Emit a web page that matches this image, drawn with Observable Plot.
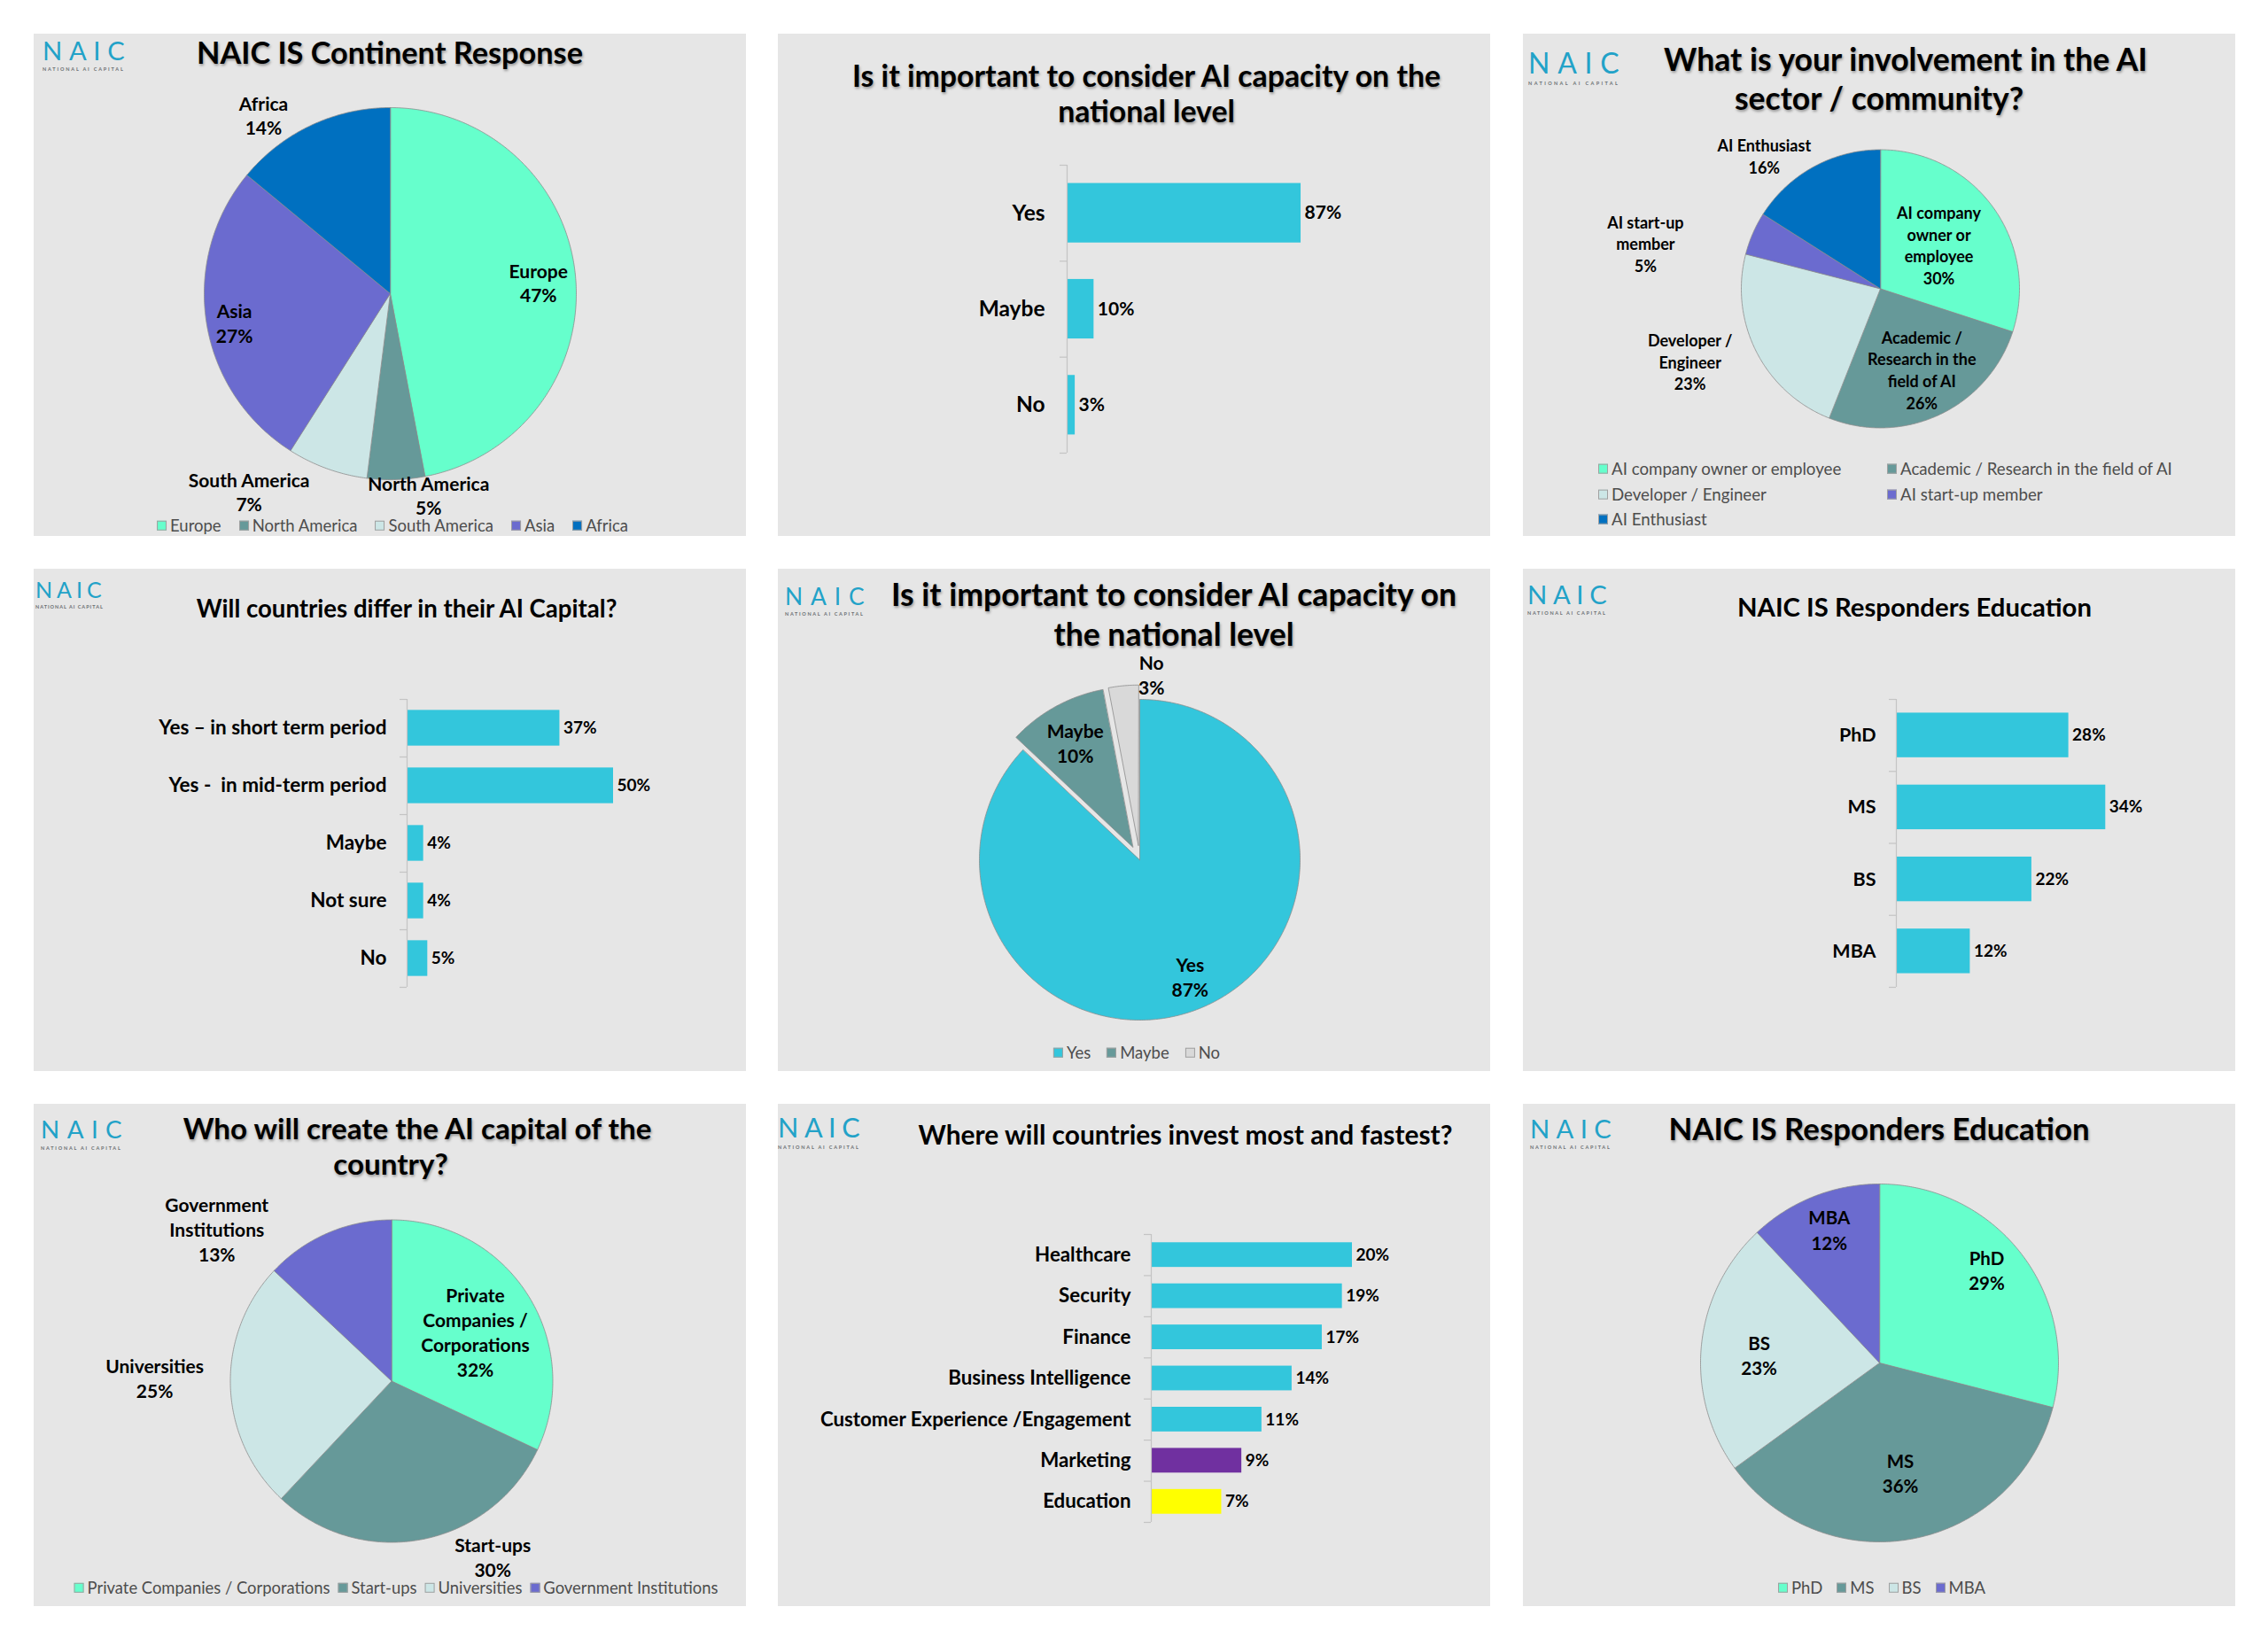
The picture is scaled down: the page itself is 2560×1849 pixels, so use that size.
<!DOCTYPE html>
<html>
<head>
<meta charset="utf-8">
<script src="https://cdn.jsdelivr.net/npm/d3@7"></script>
<script src="https://cdn.jsdelivr.net/npm/@observablehq/plot@0.6"></script>
<style>
  html, body { margin: 0; padding: 0; background: #ffffff; }
  body { width: 2560px; height: 1849px; position: relative; font-family: Lato, "Open Sans", sans-serif; overflow: hidden; }
  .panel { position: absolute; width: 804px; height: 567px; background: #e6e6e6; }
  .panel svg { position: absolute; left: 0; top: 0; }
  .title { position: absolute; white-space: nowrap; font-weight: 700; color: #000; line-height: 1; transform: translate(-50%, -50%); }
  .shadow { text-shadow: 1px 2px 3px rgba(0,0,0,0.35); }
  .logo { position: absolute; color: #22a2c8; font-weight: 400; line-height: 1; white-space: nowrap; }
  .logo .sub { display: block; font-weight: 700; color: #6a6f72; font-size: 5.5px; margin-top: 5px; }
  .legend { position: absolute; display: flex; align-items: center; white-space: nowrap; color: #4d4d4d; line-height: 1; }
  .legend .item { display: flex; align-items: center; }
  .legend .sw { width: 11px; height: 11px; box-sizing: border-box; border: 1px solid #a0a0a0; margin-right: 4px; }
  .legend-grid { position: absolute; color: #4d4d4d; line-height: 1; white-space: nowrap; }
  .legend-grid .item { position: absolute; display: flex; align-items: center; transform: translateY(-50%); }
  .legend-grid .sw { width: 11px; height: 11px; box-sizing: border-box; border: 1px solid #a0a0a0; margin-right: 4px; }
</style>
</head>
<body>
<script>
// ---------------- DATA ----------------
const continentNames = ["Europe", "North America", "South America", "Asia", "Africa"];
const continentValues = [47, 5, 7, 27, 14];

const capacityBarCats = ["Yes", "Maybe", "No"];
const capacityBarValues = [87, 10, 3];

const involvementNames = ["AI company owner or employee", "Academic / Research in the field of AI", "Developer / Engineer", "AI start-up member", "AI Enthusiast"];
const involvementLabels = ["AI company\nowner or\nemployee", "Academic /\nResearch in the\nfield of AI", "Developer /\nEngineer", "AI start-up\nmember", "AI Enthusiast"];
const involvementValues = [30, 26, 23, 5, 16];

const differCats = ["Yes \u2013 in short term period", "Yes -  in mid-term period", "Maybe", "Not sure", "No"];
const differValues = [37, 50, 4, 4, 5];

const capacityPieNames = ["Yes", "Maybe", "No"];
const capacityPieValues = [87, 10, 3];

const eduBarCats = ["PhD", "MS", "BS", "MBA"];
const eduBarValues = [28, 34, 22, 12];

const creatorNames = ["Private Companies / Corporations", "Start-ups", "Universities", "Government Institutions"];
const creatorLabels = ["Private\nCompanies /\nCorporations", "Start-ups", "Universities", "Government\nInstitutions"];
const creatorValues = [32, 30, 25, 13];

const investCats = ["Healthcare", "Security", "Finance", "Business Intelligence", "Customer Experience /Engagement", "Marketing", "Education"];
const investValues = [20, 19, 17, 14, 11, 9, 7];

const eduPieNames = ["PhD", "MS", "BS", "MBA"];
const eduPieValues = [29, 36, 23, 12];

// ---------------- STYLES ----------------
const AQUA = "#66ffcc", TEAL = "#669999", PALE = "#cce6e6", PURPLE = "#6b6bcf", BLUE = "#0070c0";
const CYAN = "#33c6dc", GREY = "#d9d9d9";
const continentColors = [AQUA, TEAL, PALE, PURPLE, BLUE];
const involvementColors = [AQUA, TEAL, PALE, PURPLE, BLUE];
const capacityPieColors = [CYAN, TEAL, GREY];
const creatorColors = [AQUA, TEAL, PALE, PURPLE];
const eduPieColors = [AQUA, TEAL, PALE, PURPLE];
const investColors = [CYAN, CYAN, CYAN, CYAN, CYAN, "#7030a0", "#ffff00"];

const W = 804, H = 567;
const panelX = [38, 878, 1719], panelY = [38, 642, 1246];

function makePanel(col, row) {
  const d = document.createElement("div");
  d.className = "panel";
  d.style.left = panelX[col] + "px";
  d.style.top = panelY[row] + "px";
  document.body.appendChild(d);
  return d;
}

function addTitle(panel, lines, size, shadow) {
  for (const [t, cx, cy] of lines) {
    const e = document.createElement("div");
    e.className = "title" + (shadow ? " shadow" : "");
    e.textContent = t;
    e.style.left = cx + "px";
    e.style.top = cy + "px";
    e.style.fontSize = size + "px";
    panel.appendChild(e);
  }
}

function addLogo(panel, left, capTop, capH, width) {
  const fs = capH / 0.72;
  const e = document.createElement("div");
  e.className = "logo";
  const ls = Math.max(0, (width - 2.4 * fs) / 3);
  e.style.left = left + "px";
  e.style.top = (capTop - 0.17 * fs) + "px";
  e.style.fontSize = fs + "px";
  const main = document.createElement("span");
  main.textContent = "NAIC";
  main.style.letterSpacing = ls + "px";
  const sub = document.createElement("span");
  sub.className = "sub";
  sub.textContent = "NATIONAL AI CAPITAL";
  sub.style.letterSpacing = Math.max(1, (width - 60) / 18) + "px";
  e.appendChild(main);
  e.appendChild(sub);
  panel.appendChild(e);
}

function addLegend(panel, names, colors, cx, cy, fontSize, gap) {
  const box = document.createElement("div");
  box.className = "legend";
  box.style.left = cx + "px";
  box.style.top = cy + "px";
  box.style.transform = "translate(-50%, -50%)";
  box.style.fontSize = fontSize + "px";
  box.style.gap = gap + "px";
  names.forEach((n, i) => {
    const it = document.createElement("div");
    it.className = "item";
    const sw = document.createElement("span");
    sw.className = "sw";
    sw.style.background = colors[i];
    const tx = document.createElement("span");
    tx.textContent = n;
    it.appendChild(sw);
    it.appendChild(tx);
    box.appendChild(it);
  });
  panel.appendChild(box);
}

function addGridLegend(panel, names, colors, colXs, rowYs, fontSize) {
  const box = document.createElement("div");
  box.className = "legend-grid";
  box.style.left = "0px";
  box.style.top = "0px";
  box.style.fontSize = fontSize + "px";
  names.forEach((n, i) => {
    const it = document.createElement("div");
    it.className = "item";
    it.style.left = colXs[i % colXs.length] + "px";
    it.style.top = rowYs[Math.floor(i / colXs.length)] + "px";
    const sw = document.createElement("span");
    sw.className = "sw";
    sw.style.background = colors[i];
    const tx = document.createElement("span");
    tx.textContent = n;
    it.appendChild(sw);
    it.appendChild(tx);
    box.appendChild(it);
  });
  panel.appendChild(box);
}

const plotStyle = { background: "transparent", overflow: "visible", fontFamily: "Lato, 'Open Sans', sans-serif" };

// Pie drawn through Plot x/y scales (unit circle domain) with filled closed lines
function pieChart({ names, values, labels, colors, cx, cy, r, labelPos, explode, fontSize, lineHeight }) {
  const total = d3.sum(values);
  let cum = 0;
  const pts = [], lab = [];
  values.forEach((v, i) => {
    const a0 = cum / total * 2 * Math.PI; cum += v;
    const a1 = cum / total * 2 * Math.PI;
    const mid = (a0 + a1) / 2;
    const e = explode ? explode[i] : 0;
    const ox = e * Math.sin(mid), oy = e * Math.cos(mid);
    pts.push({ key: names[i], x: ox, y: oy });
    const steps = Math.max(2, Math.ceil((a1 - a0) / (Math.PI / 360)));
    for (let s = 0; s <= steps; s++) {
      const a = a0 + (a1 - a0) * s / steps;
      pts.push({ key: names[i], x: ox + Math.sin(a), y: oy + Math.cos(a) });
    }
    const [k, nx, ny] = labelPos[i];
    lab.push({ text: `${labels[i]}\n${v}%`, x: k * Math.sin(mid) + nx / r, y: k * Math.cos(mid) - ny / r });
  });
  return Plot.plot({
    width: W, height: H,
    marginLeft: cx - r, marginRight: W - cx - r, marginTop: cy - r, marginBottom: H - cy - r,
    x: { domain: [-1, 1], axis: null },
    y: { domain: [-1, 1], axis: null },
    color: { domain: names, range: colors },
    style: plotStyle,
    marks: [
      Plot.line(pts, { x: "x", y: "y", z: "key", fill: "key", stroke: "#8c8c8c", strokeWidth: 0.8, curve: "linear-closed" }),
      Plot.text(lab, { x: "x", y: "y", text: "text", fontSize, fontWeight: 700, lineHeight, fill: "#000" })
    ]
  });
}

// Horizontal bar chart, Excel-like category axis with ticks between categories
function barChart({ cats, values, colors, axisX, top, bottom, pxPer, catSize, valSize, gap, catDx }) {
  const n = cats.length;
  const data = cats.map((c, i) => ({ cat: c, value: values[i], i, color: colors[i] }));
  const xmax = (W - axisX - 20) / pxPer;
  return Plot.plot({
    width: W, height: H,
    marginLeft: axisX, marginRight: 20, marginTop: top, marginBottom: H - bottom,
    x: { domain: [0, xmax], axis: null },
    y: { domain: [n, 0], axis: null },
    color: { type: "identity" },
    style: plotStyle,
    marks: [
      Plot.rectX(data, { x1: 0, x2: "value", y1: d => d.i + gap / 2, y2: d => d.i + 1 - gap / 2, fill: "color" }),
      Plot.ruleX([0], { stroke: "#c4c4c4", strokeWidth: 1.2 }),
      Plot.ruleY(d3.range(n + 1), { x1: -8 / pxPer, x2: 0, stroke: "#c4c4c4", strokeWidth: 1.2 }),
      Plot.text(data, { x: 0, y: d => d.i + 0.5, text: "cat", textAnchor: "end", dx: -catDx, fontSize: catSize, fontWeight: 700, fill: "#000" }),
      Plot.text(data, { x: "value", y: d => d.i + 0.5, text: d => d.value + "%", textAnchor: "start", dx: 4, fontSize: valSize, fontWeight: 700, fill: "#000" })
    ]
  });
}

// ---------------- PANEL 1 ----------------
{
  const p = makePanel(0, 0);
  p.appendChild(pieChart({
    names: continentNames, values: continentValues, labels: continentNames, colors: continentColors,
    cx: 402, cy: 293, r: 210, fontSize: 21, lineHeight: 1.3,
    labelPos: [[0.8, 0, 3], [1.105, 36, -5], [1.144, -78, -3], [0.848, 0, 5], [1.063, -48, 0]]
  }));
  addLogo(p, 10, 9, 21, 93);
  addTitle(p, [["NAIC IS Continent Response", 402, 21]], 34.3, true);
  addLegend(p, continentNames, continentColors, 405, 555, 18.5, 20);
}

// ---------------- PANEL 2 ----------------
{
  const p = makePanel(1, 0);
  p.appendChild(barChart({
    cats: capacityBarCats, values: capacityBarValues, colors: capacityBarCats.map(() => CYAN),
    axisX: 326, top: 148, bottom: 473, pxPer: 3.035, catSize: 24.5, valSize: 21, gap: 0.38, catDx: 25
  }));
  addTitle(p, [["Is it important to consider AI capacity on the", 416, 48], ["national level", 416, 88]], 33.8, true);
}

// ---------------- PANEL 3 ----------------
{
  const p = makePanel(2, 0);
  p.appendChild(pieChart({
    names: involvementNames, values: involvementValues, labels: involvementLabels, colors: involvementColors,
    cx: 403, cy: 287.5, r: 157, fontSize: 18, lineHeight: 1.37,
    labelPos: [[0.52, 0, -2], [0.64, 4, 0], [1.3, -33, -11], [1.5, -49, 42], [1.087, -49, -1]]
  }));
  addLogo(p, 6, 22, 23, 103);
  addTitle(p, [["What is your involvement in the AI", 432, 29], ["sector / community?", 402, 73]], 35.6, true);
  addGridLegend(p, involvementNames, involvementColors, [85, 411], [491, 520, 548], 18.7);
}

// ---------------- PANEL 4 ----------------
{
  const p = makePanel(0, 1);
  p.appendChild(barChart({
    cats: differCats, values: differValues, colors: differCats.map(() => CYAN),
    axisX: 421, top: 147, bottom: 472, pxPer: 4.66, catSize: 22.5, valSize: 19, gap: 0.38, catDx: 23
  }));
  addLogo(p, 2, 15, 18, 75);
  addTitle(p, [["Will countries differ in their AI Capital?", 421, 45]], 27.6, false);
}

// ---------------- PANEL 5 ----------------
{
  const p = makePanel(1, 1);
  p.appendChild(pieChart({
    names: capacityPieNames, values: capacityPieValues, labels: capacityPieNames, colors: capacityPieColors,
    cx: 408, cy: 328, r: 181, fontSize: 21, lineHeight: 1.33, explode: [0, 0.09, 0.09],
    labelPos: [[0.79, 0, 0], [0.835, 0, 0], [1.163, 33, 0]]
  }));
  addLogo(p, 8, 22, 19, 90);
  addTitle(p, [["Is it important to consider AI capacity on", 447, 29], ["the national level", 447, 74]], 35.6, true);
  addLegend(p, capacityPieNames, capacityPieColors, 405, 546, 18.5, 18);
}

// ---------------- PANEL 6 ----------------
{
  const p = makePanel(2, 1);
  p.appendChild(barChart({
    cats: eduBarCats, values: eduBarValues, colors: eduBarCats.map(() => CYAN),
    axisX: 421, top: 147, bottom: 472, pxPer: 6.95, catSize: 21.5, valSize: 19, gap: 0.38, catDx: 23
  }));
  addLogo(p, 5, 19, 21, 90);
  addTitle(p, [["NAIC IS Responders Education", 442, 43]], 29.3, false);
}

// ---------------- PANEL 7 ----------------
{
  const p = makePanel(0, 2);
  p.appendChild(pieChart({
    names: creatorNames, values: creatorValues, labels: creatorLabels, colors: creatorColors,
    cx: 403.5, cy: 312.5, r: 182, fontSize: 21, lineHeight: 1.33,
    labelPos: [[0.615, 0, 4], [1.119, 76, -2], [1.47, 0, -12], [1.027, -123, 0]]
  }));
  addLogo(p, 8, 20, 20, 92);
  addTitle(p, [["Who will create the AI capital of the", 433, 28], ["country?", 403, 68]], 33.2, true);
  addLegend(p, creatorNames, creatorColors, 409, 546, 18.4, 9);
}

// ---------------- PANEL 8 ----------------
{
  const p = makePanel(1, 2);
  p.appendChild(barChart({
    cats: investCats, values: investValues, colors: investColors,
    axisX: 421, top: 147, bottom: 472, pxPer: 11.35, catSize: 22.3, valSize: 19, gap: 0.4, catDx: 23
  }));
  addLogo(p, 0, 17, 22, 93);
  addTitle(p, [["Where will countries invest most and fastest?", 460, 35]], 29.9, false);
}

// ---------------- PANEL 9 ----------------
{
  const p = makePanel(2, 2);
  p.appendChild(pieChart({
    names: eduPieNames, values: eduPieValues, labels: eduPieNames, colors: eduPieColors,
    cx: 402, cy: 292, r: 202, fontSize: 20.5, lineHeight: 1.37,
    labelPos: [[0.758, 0, -12], [0.622, 0, 0], [0.676, 0, 3.5], [0.804, 3, 0]]
  }));
  addLogo(p, 8, 18, 21, 92);
  addTitle(p, [["NAIC IS Responders Education", 402, 28]], 34.8, true);
  addLegend(p, eduPieNames, eduPieColors, 405, 546, 18.5, 16);
}
</script>
</body>
</html>
